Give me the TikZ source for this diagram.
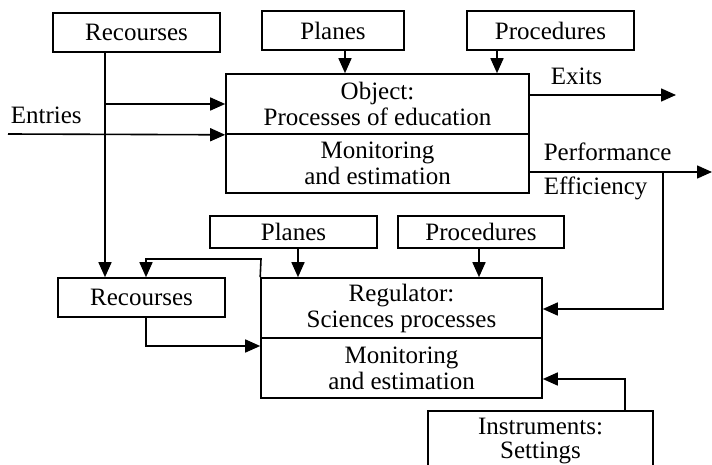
\documentclass[tikz,border=0pt]{standalone}
\usepackage{fontspec}
\setmainfont{Liberation Serif}
\usetikzlibrary{arrows.meta}
\begin{document}
\begin{tikzpicture}[x=1pt,y=-1pt, line width=1.6pt,
  box/.style={draw, rectangle, inner sep=0pt, align=center, font=\fontsize{25}{26}\selectfont},
  arr/.style={-{Triangle[length=15pt,width=13pt]}},
  lbl/.style={inner sep=0pt, anchor=base west, font=\fontsize{25}{26}\selectfont}]
\useasboundingbox (0,0) rectangle (712,465);
% top row
\node[box, minimum width=167pt, minimum height=39pt] (rec1) at (136.5,32.5) {Recourses};
\node[box, minimum width=142pt, minimum height=39pt] (pl1) at (333,30.5) {Planes};
\node[box, minimum width=167pt, minimum height=39pt] (pr1) at (550.5,30.5) {Procedures};
% object
\node[box, minimum width=303pt, minimum height=60pt] (objt) at (377.5,104) {Object:\\Processes of education};
\node[box, minimum width=303pt, minimum height=59pt] (objb) at (377.5,163.5) {Monitoring\\and estimation};
% second row
\node[box, minimum width=167pt, minimum height=32pt] (pl2) at (293.5,232) {Planes};
\node[box, minimum width=166pt, minimum height=32pt] (pr2) at (481,232) {Procedures};
% regulator
\node[box, minimum width=281pt, minimum height=60pt] (regt) at (401.5,308) {Regulator:\\Sciences processes};
\node[box, minimum width=281pt, minimum height=60pt] (regb) at (401.5,368) {Monitoring\\and estimation};
\node[box, minimum width=167pt, minimum height=39pt] (rec2) at (141.5,297.5) {Recourses};
% instruments (cut off at the bottom)
\begin{scope}
\clip (0,0) rectangle (712,465);
\node[box, minimum width=225pt, minimum height=80pt, anchor=north] (ins) at (540.5,410) {};
\node[box, draw=none, font=\fontsize{25}{24}\selectfont, anchor=north] (inst) at (540.5,417) {Instruments:\\Settings};
\end{scope}
% labels
\node[lbl] (lent) at (10,124) {Entries};
\node[lbl] (lex) at (550,85) {Exits};
\node[lbl] (lperf) at (543,161) {Performance};
\node[lbl] (leff) at (543,195) {Efficiency};
% helper coordinates
\coordinate (vx) at (105,0);
\coordinate (j1) at (105,104);
\coordinate (ent) at (8,134);
\coordinate (exend) at (676,95);
\coordinate (exst) at (529,95);
\coordinate (perfend) at (712,172);
\coordinate (perfst) at (529,172);
\coordinate (pv) at (663,172);
\coordinate (regin) at (663,309);
\coordinate (fb1) at (261,259);
\coordinate (fb2) at (146,259);
\coordinate (r2a) at (146,346);
\coordinate (insu) at (625,379);
% connectors
\draw[arr] (rec1.south -| vx) -- (rec2.north -| vx);
\draw[arr] (j1) -- (j1 -| objt.west);
\draw[arr] (ent) -- (objt.south west);
\draw[arr] (pl1.south -| 345,0) -- (objt.north -| 345,0);
\draw[arr] (pr1.south -| 497,0) -- (objt.north -| 497,0);
\draw[arr] (exst) -- (exend);
\draw[arr] (perfst) -- (perfend);
\draw[arr] (pv) -- (regin) -- (regin -| regt.east);
\draw[arr] (pl2.south -| 298,0) -- (regt.north -| 298,0);
\draw[arr] (pr2.south -| 479,0) -- (regt.north -| 479,0);
\draw[arr] (regt.north west) -- (fb1) -- (fb2) -- (rec2.north -| fb2);
\draw[arr] (rec2.south -| r2a) -- (r2a) -- (r2a -| regb.west);
\draw[arr] (ins.north -| insu) -- (insu) -- (insu -| regb.east);
\end{tikzpicture}
\end{document}
